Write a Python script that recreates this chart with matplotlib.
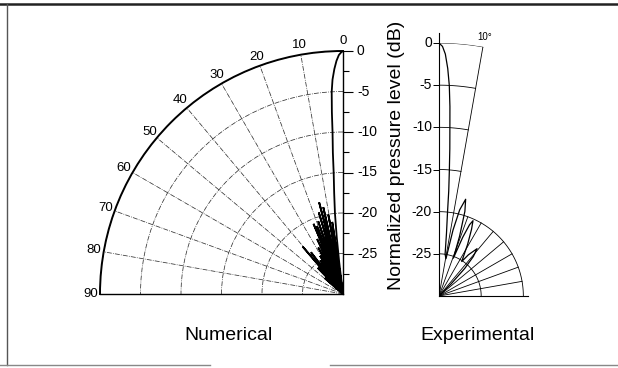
import matplotlib
matplotlib.use("Agg")
import matplotlib.pyplot as plt
import numpy as np

plt.rcParams["font.family"] = ["Liberation Sans", "DejaVu Sans"]

DB_FLOOR = -30

# numerical directivity (angle in degrees from axis, level in dB)
num_angle = [0, 0.5, 1, 1.6, 2.2, 2.8, 3.2, 3.5, 3.7, 4.1, 4.4, 5, 5.7, 6.3, 6.8, 7.2,
             8.5, 9.5, 10.5, 11.5, 12.8, 13.6, 14.6, 15.6, 16.5, 17.5, 18.8, 19.8,
             21, 22, 22.8, 24, 25.2, 26.5, 28, 29.5, 31, 32.5, 34, 35.5, 37.5, 39,
             40.4, 42, 44, 46, 49, 52]
num_level = [0, -0.2, -0.5, -1.2, -2.2, -3.5, -5, -7.5, -10, -12.5, -15, -17.5, -20, -23, -26, -30,
             -21, -30, -20, -30, -19, -28, -18.3, -30, -19.5, -29, -20.5, -30,
             -21, -29, -20.6, -30, -22.5, -30, -23.5, -29, -24.5, -30, -25, -29, -23.5, -28,
             -22.3, -30, -25.5, -30, -27, -30]

# experimental directivity
exp_angle = [0, 0.8, 1.5, 2.2, 2.8, 3.3, 3.7, 4.2, 4.7, 5.3, 5.8, 6.8, 8.3, 10.6,
             12, 13.5, 15.4, 17, 19, 20.8,
             22, 23.2, 24.3, 26, 29, 33.4,
             35.5, 38.8, 41, 43, 45, 47]
exp_level = [0, -0.4, -1.3, -3, -5, -7.5, -10, -12.5, -15, -17.5, -20, -22.5, -25, -25.5,
             -22, -19.5, -18.1, -19.5, -22.5, -25.2,
             -22.5, -20.8, -20.2, -21.2, -23, -25.1,
             -24, -22.8, -23.8, -25.5, -28, -30]

r_ticks = [5, 10, 15, 20, 25, 30]
r_tick_labels = ["-25", "-20", "-15", "-10", "-5", "0"]
r_minor = [2.5, 7.5, 12.5, 17.5, 22.5, 27.5]
theta_ticks = list(range(0, 91, 10))
theta_minor = list(range(5, 90, 10))

W, H = 618, 368
fig = plt.figure(figsize=(6.18, 3.68), dpi=100)


def px_rect(x0, y_top, w, h):
    return [x0 / W, 1 - (y_top + h) / H, w / W, h / H]


grid_kw = dict(color="#333333", linestyle="-.", linewidth=0.55)

# ---- numerical (left) ----
ax1 = fig.add_axes(px_rect(100, 51, 243, 243), projection="polar")
ax1.set_theta_zero_location("N")
ax1.set_theta_direction(1)
ax1.set_thetamin(0)
ax1.set_thetamax(90)
ax1.set_ylim(0, 30)
ax1.patch.set_visible(False)
ax1.plot(np.deg2rad(num_angle), np.array(num_level) - DB_FLOOR, color="black", lw=1.3,
         solid_joinstyle="miter")
ax1.set_xticks(np.deg2rad(theta_ticks))
ax1.set_xticklabels([str(t) for t in theta_ticks], fontsize=9.5)
ax1.set_xticks(np.deg2rad(theta_minor), minor=True)
ax1.tick_params(axis="x", which="major", length=0, pad=0)
ax1.tick_params(axis="x", which="minor", length=4, direction="in", width=0.8)
ax1.set_yticks(r_ticks)
ax1.set_yticklabels(r_tick_labels, fontsize=9)
ax1.set_yticks(r_minor, minor=True)
ax1.tick_params(axis="y", which="both", left=True, right=False, labelleft=True,
                labelright=False, direction="out")
ax1.tick_params(axis="y", which="major", length=7, width=0.8, pad=3)
ax1.tick_params(axis="y", which="minor", length=4, width=0.8)
ax1.grid(True, **grid_kw)
ax1.spines["polar"].set_linewidth(1.4)
ax1.spines["start"].set_linewidth(1.0)
ax1.spines["end"].set_linewidth(1.0)
ax1.spines["inner"].set_color("none")

# ---- experimental (right) ----
ax2 = fig.add_axes(px_rect(439, 43, 253, 253), projection="polar")
ax2.set_theta_zero_location("N")
ax2.set_theta_direction(-1)
ax2.set_thetamin(0)
ax2.set_thetamax(90)
ax2.set_ylim(0, 30)
ax2.patch.set_visible(False)
# polar axes re-enable wedge spines at draw time, so blank them by colour
for side in ["polar", "end", "inner"]:
    ax2.spines[side].set_color("none")
ax2.spines["start"].set_linewidth(0.8)
ax2.set_xticks(np.deg2rad([10]))
ax2.set_xticklabels(["10°"], fontsize=7)
ax2.tick_params(axis="x", length=0, pad=0)
ax2.set_yticks(r_ticks)
ax2.set_yticklabels(r_tick_labels, fontsize=6.5)
ax2.tick_params(axis="y", left=True, right=False, labelleft=True, labelright=False,
                direction="out", length=4, width=0.7, pad=1)
ax2.yaxis.grid(False)
ax2.xaxis.grid(True, color="black", linestyle="-", linewidth=0.6)

line_kw = dict(color="black", lw=0.6)
narrow = np.deg2rad(np.linspace(0, 10, 30))
for r in [15, 20, 25, 30]:
    ax2.plot(narrow, np.full_like(narrow, r), **line_kw)
quarter = np.deg2rad(np.linspace(0, 90, 120))
for r in [5, 10]:
    ax2.plot(quarter, np.full_like(quarter, r), **line_kw)
for t in range(20, 90, 10):
    ax2.plot(np.deg2rad([t, t]), [0, 10], **line_kw)
ax2.plot(np.deg2rad([90, 90]), [0, 10.6], color="black", lw=0.8, clip_on=False)
ax2.plot([0, 0], [30, 31.2], color="black", lw=0.8, clip_on=False)
ax2.plot(np.deg2rad(exp_angle), np.array(exp_level) - DB_FLOOR, color="black", lw=0.9)

# ---- labels ----
fig.text(396 / W, 1 - 155 / H, "Normalized pressure level (dB)", rotation=90,
         ha="center", va="center", fontsize=14)
fig.text(228 / W, 1 - 336 / H, "Numerical", ha="center", va="center", fontsize=14)
fig.text(478 / W, 1 - 336 / H, "Experimental", ha="center", va="center", fontsize=14)

# ---- scanned page frame ----
fig.add_artist(plt.Line2D([0, 1], [1 - 4 / H, 1 - 4 / H], color="#222222", lw=1.8))
fig.add_artist(plt.Line2D([7 / W, 7 / W], [1 - 4 / H, 3 / H], color="#555555", lw=1.0))
fig.add_artist(plt.Line2D([0, 210 / W], [3 / H, 3 / H], color="#888888", lw=1.0))
fig.add_artist(plt.Line2D([330 / W, 1], [3 / H, 3 / H], color="#888888", lw=1.0))

fig.savefig("out.png", dpi=100)
